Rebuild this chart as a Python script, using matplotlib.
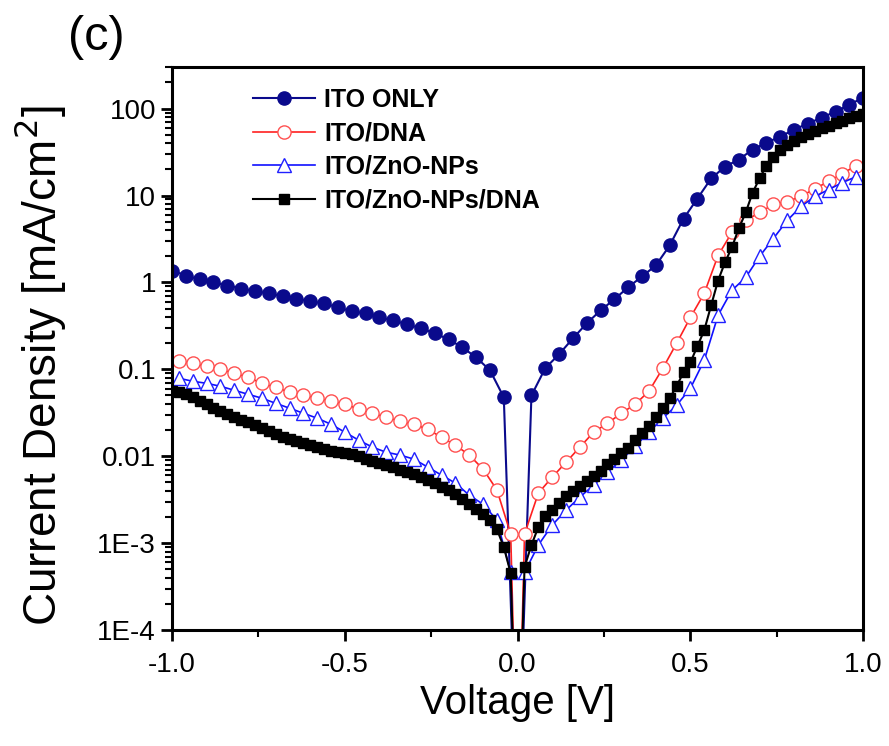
import numpy as np
import matplotlib
matplotlib.use("Agg")
from matplotlib import pyplot as plt
from matplotlib.ticker import FixedLocator, LogLocator, NullFormatter

plt.rcParams['font.family'] = ['Liberation Sans', 'DejaVu Sans']

# ---- data ----
# ITO ONLY: -1.00 .. 1.00 step 0.04 (0 point falls far below axis)
v_ito = [-1.00, -0.96, -0.92, -0.88, -0.84, -0.80, -0.76, -0.72, -0.68, -0.64,
         -0.60, -0.56, -0.52, -0.48, -0.44, -0.40, -0.36, -0.32, -0.28, -0.24,
         -0.20, -0.16, -0.12, -0.08, -0.04, 0.00,
         0.04, 0.08, 0.12, 0.16, 0.20, 0.24, 0.28, 0.32, 0.36, 0.40,
         0.44, 0.48, 0.52, 0.56, 0.60, 0.64, 0.68, 0.72, 0.76, 0.80,
         0.84, 0.88, 0.92, 0.96, 1.00]
j_ito = [1.37, 1.20, 1.08, 1.00, 0.92, 0.85, 0.79, 0.75, 0.69, 0.65,
         0.605, 0.574, 0.516, 0.465, 0.44, 0.396, 0.366, 0.329, 0.296, 0.26,
         0.221, 0.179, 0.137, 0.0975, 0.0476, 1e-6,
         0.050, 0.103, 0.149, 0.227, 0.338, 0.476, 0.64, 0.88, 1.17, 1.57,
         2.66, 5.4, 9.2, 15.7, 21.5, 25.9, 33.8, 40.6, 47.6, 57.4,
         67.3, 78.8, 92.4, 111, 134]

# ITO/DNA: odd multiples of 0.02
v_dna = [-0.98, -0.94, -0.90, -0.86, -0.82, -0.78, -0.74, -0.70, -0.66, -0.62,
         -0.58, -0.54, -0.50, -0.46, -0.42, -0.38, -0.34, -0.30, -0.26, -0.22,
         -0.18, -0.14, -0.10, -0.06, -0.02, 0.00,
         0.02, 0.06, 0.10, 0.14, 0.18, 0.22, 0.26, 0.30, 0.34, 0.38,
         0.42, 0.46, 0.50, 0.54, 0.58, 0.62, 0.66, 0.70, 0.74, 0.78,
         0.82, 0.86, 0.90, 0.94, 0.98]
j_dna = [0.124, 0.117, 0.108, 0.100, 0.090, 0.081, 0.069, 0.062, 0.0545, 0.0503,
         0.0465, 0.0429, 0.040, 0.0347, 0.0312, 0.0281, 0.0252, 0.0233, 0.0204, 0.0165,
         0.0134, 0.0103, 0.0071, 0.0041, 0.00127, 1e-6,
         0.00127, 0.00376, 0.00574, 0.0085, 0.0127, 0.0189, 0.0239, 0.0312, 0.0396, 0.0559,
         0.1026, 0.199, 0.396, 0.748, 2.04, 3.76, 5.16, 6.38, 7.88, 8.53,
         9.75, 12.0, 14.5, 17.9, 22.1]

# ITO/ZnO-NPs
v_zno = v_dna
j_zno = [0.0789, 0.0728, 0.069, 0.0638, 0.0574, 0.0516, 0.0465, 0.0406, 0.0357, 0.0312,
         0.0274, 0.0233, 0.0189, 0.0153, 0.0127, 0.0111, 0.0103, 0.00925, 0.00748, 0.00605,
         0.0049, 0.00356, 0.0028, 0.00184, 0.00046, 1e-6,
         0.00046, 0.00095, 0.00161, 0.00239, 0.00338, 0.00465, 0.00655, 0.009, 0.013, 0.0189,
         0.0274, 0.0385, 0.0605, 0.127, 0.418, 0.81, 1.14, 1.99, 3.2, 5.16,
         7.48, 9.75, 11.7, 14.1, 16.5]

# ITO/ZnO-NPs/DNA: step 0.02
v_zdna = [round(-1.0 + 0.02 * i, 2) for i in range(101)]
j_zdna = [0.0558, 0.0545, 0.0516, 0.0476, 0.0429, 0.0396, 0.0356, 0.0329, 0.0304, 0.0281,
          0.0259, 0.0246, 0.0227, 0.0210, 0.0194, 0.0179, 0.0165, 0.0157, 0.0149, 0.0141,
          0.0134, 0.0127, 0.0120, 0.0114, 0.0111, 0.0108, 0.0105, 0.0100, 0.00925, 0.00877,
          0.00831, 0.00788, 0.00748, 0.00691, 0.00655, 0.00621, 0.00574, 0.0053, 0.0049, 0.0044,
          0.00407, 0.00366, 0.00321, 0.00281, 0.00246, 0.00215, 0.00184, 0.00145, 0.0009, 0.00045,
          1e-6,
          0.00053, 0.00095, 0.00153, 0.00204, 0.00239, 0.00288, 0.00347, 0.00396, 0.00452, 0.00516,
          0.00589, 0.00673, 0.00809, 0.00925, 0.0108, 0.0124, 0.0153, 0.0184, 0.0221, 0.0281,
          0.0356, 0.0465, 0.0638, 0.0924, 0.120, 0.184, 0.281, 0.545, 1.05, 1.70,
          2.53, 4.18, 6.38, 10.8, 15.7, 22.1, 28.1, 33.8, 38.5, 42.9,
          47.6, 51.6, 55.8, 60.5, 63.8, 69.1, 72.8, 78.8, 83.2, 87.7]

labels = ["ITO ONLY", "ITO/DNA", "ITO/ZnO-NPs", "ITO/ZnO-NPs/DNA"]


def marked(v):
    # no marker on the V = 0 point
    return [i for i, x in enumerate(v) if x != 0]


fig = plt.figure(figsize=(8.89, 7.46), dpi=100)
ax = fig.add_axes([0.1935, 0.1555, 0.7775, 0.7545])

ax.plot(v_ito, j_ito, color="#0a0a8c", lw=1.5, marker="o", ms=9.5,
        mfc="#0a0a8c", mec="#0a0a8c", markevery=marked(v_ito), label=labels[0])
ax.plot(v_dna, j_dna, color="#ff2020", lw=1.2, marker="o", ms=9.5,
        mfc="white", mec="#ff5050", mew=1.0, markevery=marked(v_dna), label=labels[1])
ax.plot(v_zno, j_zno, color="#1010ff", lw=1.2, marker="^", ms=9.5,
        mfc="white", mec="#2020ff", mew=1.0, markevery=marked(v_zno), label=labels[2])
ax.plot(v_zdna, j_zdna, color="black", lw=1.5, marker="s", ms=7.5,
        mfc="black", mec="black", markevery=marked(v_zdna), label=labels[3])

ax.set_yscale("log")
ax.set_xlim(-1.0, 1.0)
ax.set_ylim(1e-4, 300)

ax.set_xticks([-1.0, -0.5, 0.0, 0.5, 1.0])
ax.set_xticklabels(["-1.0", "-0.5", "0.0", "0.5", "1.0"])
ax.xaxis.set_minor_locator(FixedLocator([-0.75, -0.25, 0.25, 0.75]))
ax.set_yticks([1e-4, 1e-3, 1e-2, 1e-1, 1, 10, 100])
ax.set_yticklabels(["1E-4", "1E-3", "0.01", "0.1", "1", "10", "100"])
ax.yaxis.set_minor_locator(LogLocator(base=10, subs=np.arange(2, 10)))
ax.yaxis.set_minor_formatter(NullFormatter())

ax.tick_params(which="major", direction="out", length=8, width=2, labelsize=20,
               top=False, right=False)
ax.tick_params(which="minor", direction="out", length=5, width=1.5,
               top=False, right=False)
ax.tick_params(axis="x", which="major", pad=8)
for s in ax.spines.values():
    s.set_linewidth(2.2)

ax.set_xlabel("Voltage [V]", fontsize=29, labelpad=4)
ax.set_ylabel("Current Density [mA/cm$^2$]", fontsize=33)
ax.yaxis.set_label_coords(-0.15, 0.47)

leg = ax.legend(loc="upper left", bbox_to_anchor=(0.095, 0.99), frameon=False,
                prop={"weight": "bold", "size": 18}, handlelength=2.5,
                labelspacing=0.38, handletextpad=0.35, borderaxespad=0.2)

fig.text(0.076, 0.933, "(c)", fontsize=35, va="baseline")

fig.savefig("out.png", dpi=100)
